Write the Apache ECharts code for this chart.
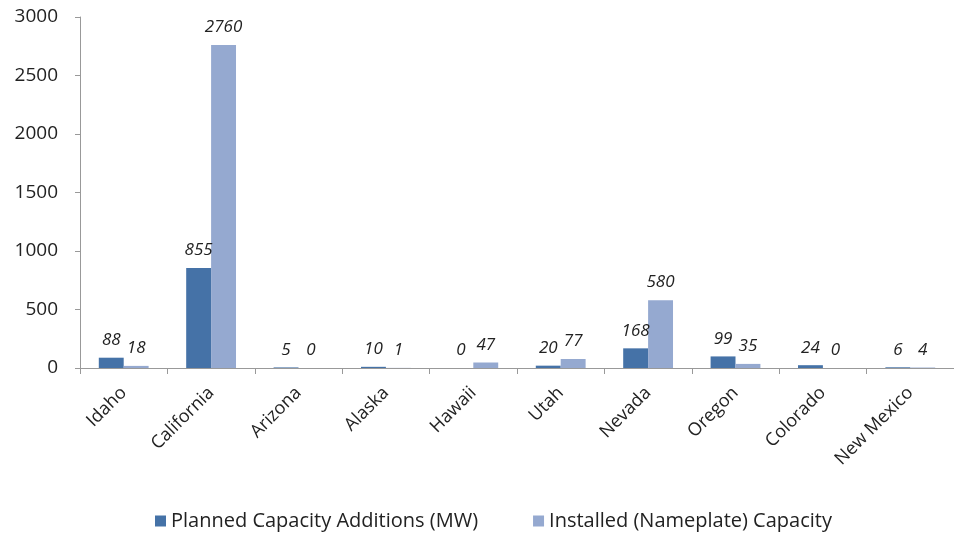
<!DOCTYPE html>
<html>
<head>
<meta charset="utf-8">
<script src="https://cdn.jsdelivr.net/npm/echarts@6/dist/echarts.min.js"></script>
<style>
  html, body { margin: 0; padding: 0; background: #fff; }
  #chart { width: 954px; height: 538px; }
</style>
</head>
<body>
<div id="chart"></div>
<script>
const states = ["Idaho", "California", "Arizona", "Alaska", "Hawaii", "Utah", "Nevada", "Oregon", "Colorado", "New Mexico"];
const planned = [88, 855, 5, 10, 0, 20, 168, 99, 24, 6];
const installed = [18, 2760, 0, 1, 47, 77, 580, 35, 0, 4];
const seriesNames = ["Planned Capacity Additions (MW)", "Installed (Nameplate) Capacity"];

const font = "'Open Sans', 'Liberation Sans', sans-serif";

const chart = echarts.init(document.getElementById("chart"));

function barLabel() {
  return {
    show: true,
    position: "top",
    distance: 9,
    fontStyle: "italic",
    fontSize: 17,
    fontFamily: font,
    color: "#222",
  };
}

chart.setOption({
  animation: false,
  grid: { left: 80, right: 0, top: 17, bottom: 170 },
  legend: {
    bottom: 2,
    left: 150,
    itemWidth: 11,
    itemHeight: 11,
    itemGap: 55,
    icon: "rect",
    textStyle: { fontSize: 20, fontFamily: font, color: "#222" },
    data: seriesNames,
  },
  xAxis: {
    type: "category",
    data: states,
    axisLine: { lineStyle: { color: "#999" } },
    axisTick: { show: true, length: 6, lineStyle: { color: "#999" } },
    axisLabel: {
      rotate: 45,
      fontSize: 18,
      fontFamily: font,
      color: "#222",
      margin: 22,
      interval: 0,
    },
  },
  yAxis: {
    type: "value",
    min: 0,
    max: 3000,
    interval: 500,
    splitLine: { show: false },
    axisLine: { show: true, lineStyle: { color: "#999" } },
    axisTick: { show: true, length: 5, lineStyle: { color: "#999" } },
    axisLabel: {
      fontSize: 19,
      fontFamily: font,
      color: "#222",
      margin: 22,
      formatter: (v) => String(v),
    },
  },
  series: [
    {
      name: seriesNames[0],
      type: "bar",
      data: planned,
      barGap: "0%",
      barCategoryGap: "43%",
      itemStyle: { color: "#4572a7" },
      label: barLabel(),
    },
    {
      name: seriesNames[1],
      type: "bar",
      data: installed,
      itemStyle: { color: "#95a9d0" },
      label: barLabel(),
    },
  ],
});

window.addEventListener("resize", () => chart.resize());
</script>
</body>
</html>
